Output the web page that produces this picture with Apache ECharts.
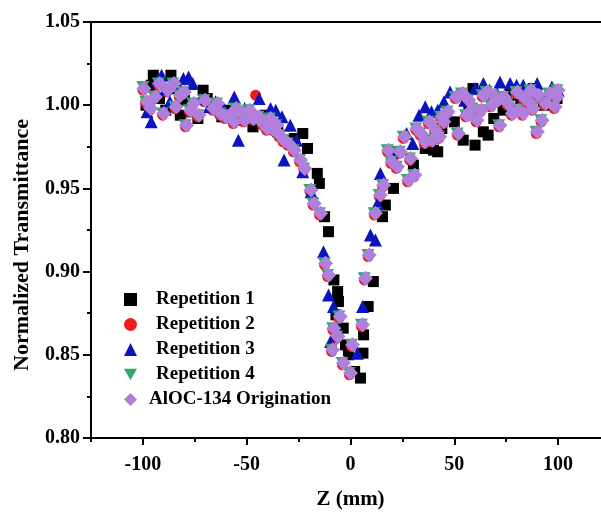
<!DOCTYPE html>
<html>
<head>
<meta charset="utf-8">
<script src="https://cdn.jsdelivr.net/npm/echarts@6/dist/echarts.min.js"></script>
<style>
  html, body { margin: 0; padding: 0; background: #fff; }
  #chart { width: 601px; height: 514px; }
</style>
</head>
<body>
<div id="chart"></div>
<script>
// Z-scan normalized transmittance, [Z (mm), T]
const rep1 = [
  [-98.5,1.000],[-96.0,1.012],[-95.0,1.018],[-92.0,1.004],[-89.0,0.997],[-86.5,1.018],[-84.0,1.010],[-82.0,0.994],
  [-80.0,1.003],[-77.0,0.996],[-73.5,0.992],[-71.0,1.009],[-69.0,1.004],[-66.0,0.999],[-62.0,0.993],[-58.0,0.997],
  [-55.0,0.991],[-51.0,0.995],[-47.0,0.987],[-44.0,0.990],[-41.0,0.994],[-38.0,0.988],[-35.0,0.984],[-31.0,0.979],
  [-27.0,0.980],[-23.0,0.983],[-20.7,0.974],[-16.0,0.959],[-15.0,0.953],[-12.5,0.933],[-10.6,0.924],[-8.0,0.895],
  [-6.2,0.888],[-5.8,0.882],[-7.0,0.874],[-3.5,0.866],[-2.4,0.856],[-1.0,0.850],[2.0,0.840],[4.8,0.836],
  [6.0,0.851],[6.3,0.862],[8.5,0.879],[11.0,0.894],[15.4,0.933],[16.8,0.940],[20.7,0.950],[22.6,0.972],
  [30.3,0.964],[36.0,0.974],[38.0,0.975],[40.0,0.973],[42.0,0.972],[44.0,0.986],[50.0,0.990],[54.3,0.979],
  [57.0,1.001],[59.0,1.010],[60.0,0.976],[64.0,0.984],[66.3,0.982],[69.0,0.992],[73.5,0.997],[77.0,1.006],
  [82.0,1.004],[85.0,0.998],[88.0,1.010],[93.0,1.000],[96.0,1.003],[99.5,1.004]
];
const rep2 = [
  [-100.0,1.009],[-98.5,1.001],[-96.7,0.997],[-94.5,1.004],[-92.5,1.012],[-90.5,0.994],[-88.5,1.008],[-85.5,1.012],
  [-84.5,0.998],[-82.5,1.005],[-80.5,1.007],[-79.5,0.987],[-77.5,0.996],[-76.0,1.000],[-73.5,0.993],[-70.5,1.002],
  [-66.5,0.997],[-64.5,1.000],[-63.0,0.994],[-60.5,0.992],[-58.5,0.993],[-56.5,0.989],[-55.5,0.997],[-53.5,0.995],
  [-51.5,0.990],[-49.0,0.996],[-47.1,0.991],[-45.7,1.006],[-44.5,0.992],[-42.5,0.988],[-40.5,0.985],[-39.0,0.991],
  [-38.0,0.985],[-36.0,0.987],[-34.5,0.981],[-32.5,0.978],[-30.3,0.976],[-27.5,0.972],[-24.5,0.966],[-22.5,0.961],
  [-19.5,0.948],[-18.0,0.940],[-14.9,0.934],[-12.5,0.904],[-11.0,0.897],[-8.5,0.865],[-6.5,0.860],[-5.5,0.872],
  [-9.1,0.852],[-3.9,0.844],[-0.5,0.838],[0.5,0.855],[5.3,0.867],[6.7,0.895],[8.5,0.909],[11.5,0.934],
  [13.9,0.945],[15.5,0.951],[17.8,0.972],[19.5,0.965],[22.1,0.962],[23.5,0.971],[25.5,0.980],[27.5,0.954],
  [28.5,0.967],[30.5,0.957],[31.5,0.985],[33.5,0.982],[35.5,0.977],[37.5,0.989],[38.9,0.978],[40.5,0.984],
  [42.5,0.980],[43.5,0.992],[44.5,0.989],[46.5,0.995],[50.5,1.004],[51.5,0.982],[53.5,1.006],[55.5,0.993],
  [56.5,1.002],[58.5,0.997],[60.5,0.990],[62.5,0.996],[63.5,1.005],[65.5,1.007],[67.5,0.999],[68.5,1.005],
  [70.5,1.002],[71.5,0.987],[73.5,1.004],[75.5,1.000],[77.5,0.994],[79.8,1.007],[80.5,0.996],[82.7,0.994],
  [83.5,1.003],[85.5,1.001],[86.5,1.008],[87.5,0.997],[89.5,0.983],[90.0,1.005],[91.8,0.990],[93.5,1.000],
  [95.7,1.006],[98.1,0.998],[99.0,1.004],[99.5,1.008]
];
const rep3 = [
  [-98.0,0.996],[-96.0,0.990],[-93.0,1.015],[-91.0,1.018],[-89.0,1.010],[-87.0,1.002],[-84.0,1.013],[-80.5,1.016],
  [-78.0,1.017],[-76.0,1.013],[-72.0,1.004],[-68.0,0.999],[-65.0,1.002],[-61.0,0.998],[-56.0,1.005],[-54.0,0.979],
  [-51.0,0.998],[-48.0,0.994],[-44.0,1.004],[-41.0,0.992],[-38.5,0.998],[-36.0,0.997],[-33.0,0.993],[-32.0,0.967],
  [-29.0,0.988],[-26.0,0.979],[-23.0,0.960],[-19.0,0.948],[-13.0,0.912],[-10.6,0.886],[-8.2,0.879],[-9.6,0.858],
  [3.3,0.851],[5.8,0.879],[9.6,0.922],[12.0,0.919],[13.0,0.941],[14.4,0.959],[20.0,0.971],[27.0,0.983],
  [30.0,0.977],[33.0,0.994],[36.0,0.999],[39.0,0.996],[42.0,0.997],[45.0,1.002],[48.0,1.008],[55.0,1.003],
  [60.0,1.010],[64.0,1.013],[67.0,1.009],[70.7,1.007],[72.0,1.014],[76.9,1.013],[80.0,1.012],[83.2,1.012],
  [87.0,1.010],[89.9,1.013],[94.0,1.006],[97.0,1.011],[100.0,1.009]
];
const rep4 = [
  [-100.0,1.011],[-98.6,1.002],[-96.8,0.998],[-94.6,1.005],[-92.6,1.013],[-90.6,0.995],[-88.6,1.009],[-85.6,1.013],
  [-84.6,0.999],[-82.6,1.006],[-80.6,1.008],[-79.6,0.988],[-77.6,0.997],[-76.1,1.001],[-73.6,0.994],[-70.6,1.003],
  [-66.6,0.998],[-64.6,1.001],[-63.1,0.995],[-60.6,0.993],[-58.6,0.994],[-56.6,0.990],[-55.6,0.998],[-53.6,0.996],
  [-51.6,0.991],[-49.1,0.997],[-47.2,0.992],[-44.6,0.993],[-42.6,0.989],[-40.6,0.986],[-39.1,0.992],[-38.1,0.986],
  [-36.1,0.988],[-34.6,0.982],[-32.6,0.979],[-30.4,0.977],[-27.6,0.973],[-24.6,0.967],[-22.6,0.962],[-19.6,0.949],
  [-18.1,0.941],[-15.0,0.935],[-12.6,0.905],[-11.1,0.898],[-8.6,0.866],[-6.6,0.861],[-5.6,0.873],[-9.2,0.853],
  [-4.0,0.845],[-0.6,0.839],[0.4,0.856],[5.2,0.868],[6.6,0.896],[8.4,0.910],[11.4,0.935],[13.8,0.946],
  [15.4,0.952],[17.7,0.973],[19.4,0.966],[22.0,0.963],[23.4,0.972],[25.4,0.981],[27.4,0.955],[28.4,0.968],
  [30.4,0.958],[31.4,0.986],[33.4,0.983],[35.4,0.978],[37.4,0.990],[38.8,0.979],[40.4,0.985],[42.4,0.981],
  [43.4,0.993],[44.4,0.990],[46.4,0.996],[50.4,1.005],[51.4,0.983],[53.4,1.007],[55.4,0.994],[56.4,1.003],
  [58.4,0.998],[60.4,0.991],[62.4,0.997],[63.4,1.006],[65.4,1.008],[67.4,1.000],[68.4,1.006],[70.4,1.003],
  [71.4,0.988],[73.4,1.005],[75.4,1.001],[77.4,0.995],[79.7,1.008],[80.4,0.997],[82.6,0.995],[83.4,1.004],
  [85.4,1.002],[86.4,1.009],[87.4,0.998],[89.4,0.984],[89.9,1.006],[91.7,0.991],[93.4,1.001],[95.6,1.007],
  [98.0,0.999],[98.9,1.005],[99.4,1.009]
];
const origination = [
  [-99.5,1.010],[-98.0,1.002],[-96.2,0.998],[-94.0,1.005],[-92.0,1.013],[-90.0,0.995],[-88.0,1.009],[-85.0,1.013],
  [-84.0,0.999],[-82.0,1.006],[-80.0,1.008],[-79.0,0.988],[-77.0,0.997],[-75.5,1.001],[-73.0,0.994],[-70.0,1.003],
  [-66.0,0.998],[-64.0,1.001],[-62.5,0.995],[-60.0,0.993],[-58.0,0.994],[-56.0,0.990],[-55.0,0.998],[-53.0,0.996],
  [-51.0,0.991],[-48.5,0.997],[-46.6,0.992],[-44.0,0.993],[-42.0,0.989],[-40.0,0.986],[-38.5,0.992],[-37.5,0.986],
  [-35.5,0.988],[-34.0,0.982],[-32.0,0.979],[-29.8,0.977],[-27.0,0.973],[-24.0,0.967],[-22.0,0.962],[-19.0,0.949],
  [-17.5,0.941],[-14.4,0.935],[-12.0,0.905],[-10.5,0.898],[-8.0,0.866],[-6.0,0.861],[-5.0,0.873],[-8.6,0.853],
  [-3.4,0.845],[0.0,0.839],[1.0,0.856],[5.8,0.868],[7.2,0.896],[9.0,0.910],[12.0,0.935],[14.4,0.946],
  [16.0,0.952],[18.3,0.973],[20.0,0.966],[22.6,0.963],[24.0,0.972],[26.0,0.981],[28.0,0.955],[29.0,0.968],
  [31.0,0.958],[32.0,0.986],[34.0,0.983],[36.0,0.978],[38.0,0.990],[39.4,0.979],[41.0,0.985],[43.0,0.981],
  [44.0,0.993],[45.0,0.990],[47.0,0.996],[51.0,1.005],[52.0,0.983],[54.0,1.007],[56.0,0.994],[57.0,1.003],
  [59.0,0.998],[61.0,0.991],[63.0,0.997],[64.0,1.006],[66.0,1.008],[68.0,1.000],[69.0,1.006],[71.0,1.003],
  [72.0,0.988],[74.0,1.005],[76.0,1.001],[78.0,0.995],[80.3,1.008],[81.0,0.997],[83.2,0.995],[84.0,1.004],
  [86.0,1.002],[87.0,1.009],[88.0,0.998],[90.0,0.984],[90.5,1.006],[92.3,0.991],[94.0,1.001],[96.2,1.007],
  [98.6,0.999],[99.5,1.005],[100.0,1.009]
];

const seriesNames = ['Repetition 1', 'Repetition 2', 'Repetition 3', 'Repetition 4', 'AlOC-134 Origination'];
const xMajorTicks = [-100, -50, 0, 50, 100];
const xMinorTicks = [-125, -75, -25, 25, 75, 125];

const FONT = '"Liberation Serif", "Times New Roman", serif';
const downTriangle = 'path://M0,0 L10,0 L5,8.66 Z';

const chart = echarts.init(document.getElementById('chart'), null, { renderer: 'canvas' });

function scatter(name, data, symbol, size, color) {
  return {
    name: name,
    type: 'scatter',
    data: data,
    symbol: symbol,
    symbolSize: size,
    itemStyle: { color: color, opacity: 1 },
    emphasis: { disabled: true },
    animation: false
  };
}

const labelFont = { fontFamily: FONT, fontWeight: 'bold', fontSize: 20, color: '#000' };

chart.setOption({
  backgroundColor: '#fff',
  animation: false,
  // the frame runs past the right edge of the canvas (x from -125 to 125)
  grid: {
    left: 91, top: 22, width: 519, height: 416,
    outerBoundsMode: 'none',
    containLabel: false,
    show: true, borderColor: '#000', borderWidth: 2, backgroundColor: 'transparent'
  },
  legend: {
    orient: 'vertical',
    left: 119, top: 285,
    itemWidth: 13, itemHeight: 13, itemGap: 6,
    data: seriesNames,
    formatter: function (name) {
      return name === seriesNames[4] ? '{o|' + name + '}' : '{r|' + name + '}';
    },
    textStyle: {
      fontFamily: FONT, fontWeight: 'bold', fontSize: 19, color: '#000',
      rich: {
        r: { fontFamily: FONT, fontWeight: 'bold', fontSize: 19, color: '#000', padding: [0, 0, 0, 14] },
        o: { fontFamily: FONT, fontWeight: 'bold', fontSize: 19, color: '#000', padding: [0, 0, 0, 7] }
      }
    }
  },
  xAxis: [
    {
      type: 'value', min: -125, max: 125,
      name: 'Z (mm)', nameLocation: 'middle', nameGap: 51,
      nameTextStyle: { fontFamily: FONT, fontWeight: 'bold', fontSize: 21, color: '#000' },
      axisLine: { show: true, onZero: false, lineStyle: { color: '#000', width: 2 } },
      axisTick: { show: true, customValues: xMajorTicks, length: 7, lineStyle: { color: '#000', width: 2 } },
      axisLabel: Object.assign({ customValues: xMajorTicks, margin: 17 }, labelFont),
      splitLine: { show: false }
    },
    {
      type: 'value', min: -125, max: 125, position: 'bottom',
      axisLine: { show: false },
      axisTick: { show: true, customValues: xMinorTicks, length: 4, lineStyle: { color: '#000', width: 2 } },
      axisLabel: { show: false },
      splitLine: { show: false }
    }
  ],
  yAxis: {
    type: 'value', min: 0.8, max: 1.05, interval: 0.05,
    name: 'Normalized Transmittance', nameLocation: 'middle', nameGap: 58,
    nameTextStyle: { fontFamily: FONT, fontWeight: 'bold', fontSize: 22, color: '#000', padding: [0, 30, 0, 0] },
    axisLine: { show: true, onZero: false, lineStyle: { color: '#000', width: 2 } },
    axisTick: { show: true, length: 8, lineStyle: { color: '#000', width: 2 } },
    minorTick: { show: true, splitNumber: 2, length: 4, lineStyle: { color: '#000', width: 2 } },
    axisLabel: Object.assign({ margin: 11, formatter: v => v.toFixed(2) }, labelFont),
    splitLine: { show: false }
  },
  series: [
    scatter(seriesNames[0], rep1, 'rect', 11, '#000000'),
    scatter(seriesNames[1], rep2, 'circle', 11, '#ee1c1c'),
    scatter(seriesNames[2], rep3, 'triangle', 13, '#0c14c0'),
    scatter(seriesNames[3], rep4, downTriangle, [13, 12], '#35a865'),
    scatter(seriesNames[4], origination, 'diamond', 15, '#b07fdd')
  ]
});
</script>
</body>
</html>
